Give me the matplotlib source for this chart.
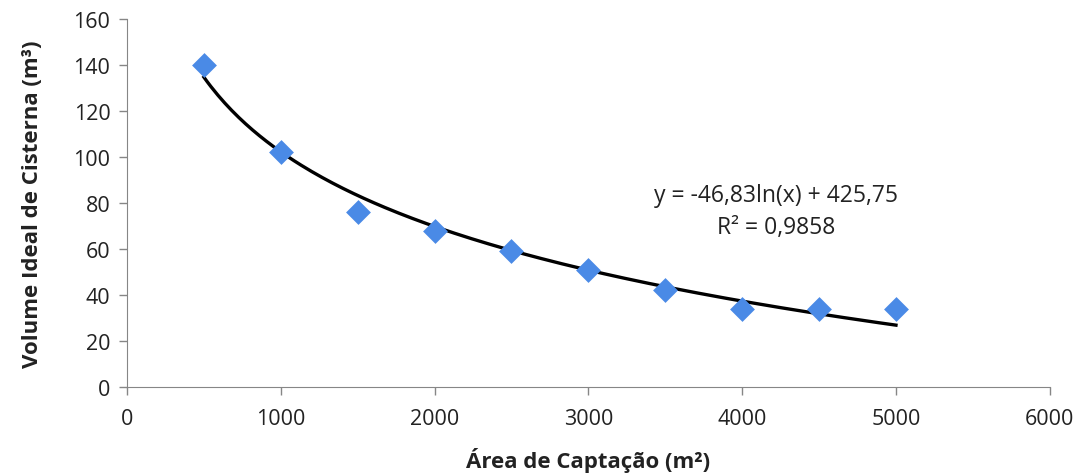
import numpy as np
import matplotlib.pyplot as plt

# data
area = [500, 1000, 1500, 2000, 2500, 3000, 3500, 4000, 4500, 5000]
volume = [140, 102, 76, 68, 59, 51, 42, 34, 34, 34]

# trendline coefficients as printed on the chart
trend_a = -46.83
trend_b = 425.75
r_squared = '0,9858'

x_ticks = [0, 1000, 2000, 3000, 4000, 5000, 6000]
y_ticks = [0, 20, 40, 60, 80, 100, 120, 140, 160]

plt.rcParams['font.family'] = ['Open Sans', 'DejaVu Sans']

fig = plt.figure(figsize=(10.8, 4.77), dpi=100)
ax = fig.add_axes([0.1176, 0.1866, 0.8544, 0.7714])

ax.scatter(area, volume, marker='D', s=160, color='#4a8ae6', zorder=3, linewidths=0)

xs = np.linspace(min(area), max(area), 200)
ax.plot(xs, trend_a * np.log(xs) + trend_b, color='black', lw=2.4, zorder=2)

ax.text(4220, 83.5, 'y = -46,83ln(x) + 425,75', ha='center', va='center', fontsize=16.5, color='#222222')
ax.text(4220, 69.5, 'R² = ' + r_squared, ha='center', va='center', fontsize=16.5, color='#222222')

ax.set_xlim(0, 6000)
ax.set_ylim(0, 160)
ax.set_xticks(x_ticks)
ax.set_yticks(y_ticks)
ax.tick_params(labelsize=15.5, color='#868686', length=6, width=1, pad=6, labelcolor='#222222')
ax.tick_params(axis='x', pad=9)
for s in ['top', 'right']:
    ax.spines[s].set_visible(False)
for s in ['left', 'bottom']:
    ax.spines[s].set_color('#868686')

ax.set_xlabel('Área de Captação (m²)', fontsize=16, fontweight='bold', labelpad=13, color='#222222')
ax.set_ylabel('Volume Ideal de Cisterna (m³)', fontsize=16, fontweight='bold', labelpad=22, color='#222222')

fig.savefig('out.png', dpi=100)
